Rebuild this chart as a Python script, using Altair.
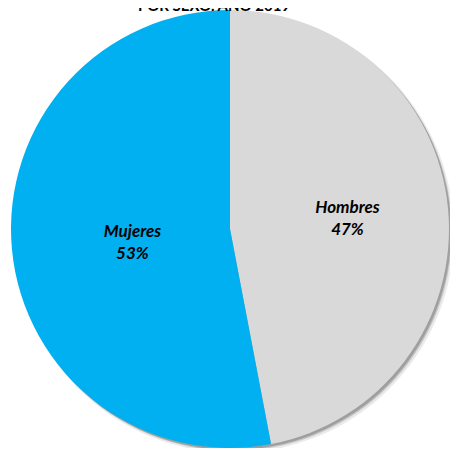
import altair as alt
import pandas as pd

categories = ["Hombres", "Mujeres"]
values = [47, 53]
colors = ["#D9D9D9", "#00B0F0"]
title_text = "POR SEXO. AÑO 2019"

df = pd.DataFrame({
    "cat": categories,
    "val": values,
    "order": [0, 1],
})
df["label"] = [f"{c}\n{v}%" for c, v in zip(categories, values)]

CX, CY, R = 222, 221, 219

base = alt.Chart(df).encode(
    theta=alt.Theta("val:Q", stack=True),
    order=alt.Order("order:Q"),
)

shadows = [
    base.mark_arc(x=CX + dx, y=CY + dy, radius=R + dr, color="#707070", opacity=op, strokeWidth=0)
    for dx, dy, dr, op in [(4, 4, 1, 0.15), (3, 3, 0, 0.3), (2, 2, 0, 0.45)]
]

pie = base.mark_arc(x=CX, y=CY, radius=R, strokeWidth=0).encode(
    color=alt.Color("cat:N", scale=alt.Scale(domain=categories, range=colors), legend=None)
)

font = "Lato"
common = dict(x=CX, y=CY, font=font, fontSize=17, fontWeight="bold", fontStyle="italic",
              lineBreak="\n", lineHeight=22, color="black")
lbl_h = base.mark_text(radius=118, dy=-10, **common).encode(
    text=alt.condition(alt.datum.cat == "Hombres", alt.Text("label:N"), alt.value(""))
)
lbl_m = base.mark_text(radius=98, dy=-6, **common).encode(
    text=alt.condition(alt.datum.cat == "Mujeres", alt.Text("label:N"), alt.value(""))
)

title = alt.Chart(pd.DataFrame({"t": [title_text]})).mark_text(
    font=font, fontSize=15, fontWeight="bold", color="black", baseline="alphabetic", align="center"
).encode(text="t:N", x=alt.value(206), y=alt.value(3))

chart = alt.layer(*shadows, pie, lbl_h, lbl_m, title).properties(
    width=442, height=440, padding=0, autosize=alt.AutoSizeParams(type="none"), background="white"
).configure_view(stroke=None)

chart.save("out.html", embed_options={"renderer": "svg", "actions": False})
